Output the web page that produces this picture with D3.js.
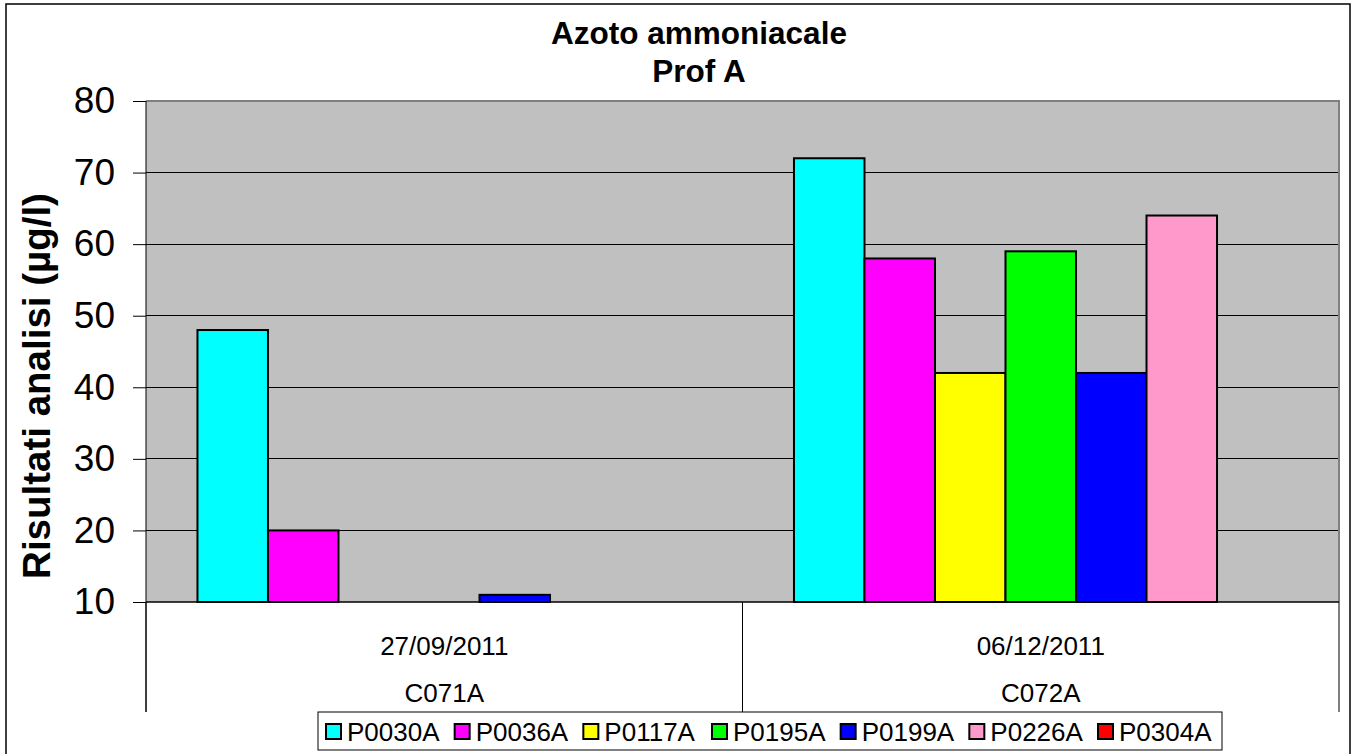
<!DOCTYPE html>
<html><head><meta charset="utf-8">
<script src="https://cdn.jsdelivr.net/npm/d3@7"></script>
<style>body{margin:0;background:#fff}svg{display:block;font-family:"Liberation Sans",Arial,sans-serif}</style>
</head><body><svg id="c" width="1357" height="754"></svg>
<script>
const dates = ["27/09/2011", "06/12/2011"];
const codes = ["C071A", "C072A"];
const seriesNames = ["P0030A", "P0036A", "P0117A", "P0195A", "P0199A", "P0226A", "P0304A"];
const seriesColors = ["#00FFFF", "#FF00FF", "#FFFF00", "#00FF00", "#0000FF", "#FF99CC", "#FF0000"];
const P0030A = [48, 72];
const P0036A = [20, 58];
const P0117A = [null, 42];
const P0195A = [null, 59];
const P0199A = [11, 42];
const P0226A = [null, 64];
const P0304A = [null, null];
const yTicks = [10, 20, 30, 40, 50, 60, 70, 80];
const titleLines = ["Azoto ammoniacale", "Prof A"];
const yTitle = "Risultati analisi (µg/l)";

const seriesValues = [P0030A, P0036A, P0117A, P0195A, P0199A, P0226A, P0304A];
const svg = d3.select("#c");
const L = 146, R = 1339, T = 101, B = 602, axisBottom = 712;

// outer frame
svg.append("rect").attr("x", 6).attr("y", 4).attr("width", 1344).attr("height", 760)
  .attr("fill", "#fff").attr("stroke", "#000").attr("stroke-width", 1.5);

const y = d3.scaleLinear().domain([10, 80]).range([B, T]);
const x0 = d3.scaleBand().domain(d3.range(dates.length)).range([L, R]).padding(0);
const x1 = d3.scaleBand().domain(d3.range(seriesNames.length)).range([0, x0.bandwidth()])
  .paddingInner(0).paddingOuter(0.73);

// plot area
svg.append("rect").attr("x", L).attr("y", T).attr("width", R - L).attr("height", B - T).attr("fill", "#C0C0C0");
// gridlines
svg.append("g").selectAll("line").data(yTicks.filter(t => t > 10 && t < 80)).join("line")
  .attr("x1", L).attr("x2", R).attr("y1", d => y(d)).attr("y2", d => y(d))
  .attr("stroke", "#000").attr("stroke-width", 1).attr("shape-rendering", "crispEdges");
// plot border top/right
svg.append("path").attr("d", `M${L},${T}H${R}V${B}`).attr("fill", "none")
  .attr("stroke", "#808080").attr("stroke-width", 2);

// bars
const bars = [];
seriesValues.forEach((vals, s) => vals.forEach((v, c) => { if (v != null) bars.push({ s, c, v }); }));
svg.append("g").selectAll("rect").data(bars).join("rect")
  .attr("x", d => x0(d.c) + x1(d.s)).attr("width", x1.bandwidth())
  .attr("y", d => y(d.v)).attr("height", d => y(10) - y(d.v))
  .attr("fill", d => seriesColors[d.s]).attr("stroke", "#000").attr("stroke-width", 2);

// y axis
const yAxis = d3.axisLeft(y).tickValues(yTicks).tickSize(13).tickPadding(18).tickSizeOuter(0);
const ya = svg.append("g").attr("transform", `translate(${L},0)`).call(yAxis);
ya.select(".domain").remove();
ya.selectAll("text").attr("font-size", 37).attr("fill", "#000").attr("font-family", "Liberation Sans, Arial, sans-serif");
ya.selectAll("line").attr("stroke", "#000");
svg.append("line").attr("x1", L).attr("x2", L).attr("y1", T).attr("y2", axisBottom).attr("stroke", "#000").attr("stroke-width", 1);

// category axis
svg.append("line").attr("x1", L).attr("x2", R).attr("y1", B).attr("y2", B).attr("stroke", "#000").attr("stroke-width", 1.5);
const seps = d3.range(dates.length + 1).map(i => i < dates.length ? x0(i) : R);
svg.append("g").selectAll("line").data(seps).join("line")
  .attr("x1", d => d).attr("x2", d => d).attr("y1", B).attr("y2", axisBottom)
  .attr("stroke", "#000").attr("stroke-width", 1);
const cg = svg.append("g").attr("font-size", 26).attr("text-anchor", "middle").attr("fill", "#000");
cg.selectAll("text.d").data(dates).join("text").attr("class", "d")
  .attr("x", (d, i) => x0(i) + x0.bandwidth() / 2).attr("y", 655).text(d => d);
cg.selectAll("text.k").data(codes).join("text").attr("class", "k")
  .attr("x", (d, i) => x0(i) + x0.bandwidth() / 2).attr("y", 702).text(d => d);

// titles
svg.append("g").attr("font-size", 31.5).attr("font-weight", "bold").attr("text-anchor", "middle")
  .selectAll("text").data(titleLines).join("text")
  .attr("x", 699).attr("y", (d, i) => 44 + i * 38).text(d => d);
svg.append("text").attr("transform", "translate(50,386) rotate(-90)")
  .attr("font-size", 38.5).attr("font-weight", "bold").attr("text-anchor", "middle").text(yTitle);

// legend
const lg = svg.append("g");
lg.append("rect").attr("x", 318).attr("y", 712).attr("width", 904).attr("height", 38)
  .attr("fill", "#fff").attr("stroke", "#000").attr("stroke-width", 1);
const lx = d3.scalePoint().domain(d3.range(seriesNames.length)).range([326, 1098]);
const items = lg.selectAll("g").data(seriesNames).join("g")
  .attr("transform", (d, i) => `translate(${lx(i)},0)`);
items.append("rect").attr("x", 0).attr("y", 724).attr("width", 15).attr("height", 15)
  .attr("fill", (d, i) => seriesColors[i]).attr("stroke", "#000").attr("stroke-width", 2);
items.append("text").attr("x", 21).attr("y", 741).attr("font-size", 26).text(d => d);
</script></body></html>
